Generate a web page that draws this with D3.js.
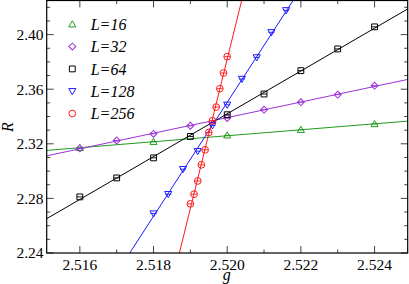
<!DOCTYPE html>
<html>
<head>
<meta charset="utf-8">
<script src="https://cdn.jsdelivr.net/npm/d3@7"></script>
<style>
  body { margin: 0; background: #fff; }
  svg { display: block; }
  text { font-family: "Liberation Serif", "Times New Roman", "DejaVu Serif", serif; }
</style>
</head>
<body>
<svg width="409" height="284"></svg>
<script>
// data
var labels = ["L=16", "L=32", "L=64", "L=128", "L=256"];
var colors = ["#1f9a1f", "#9b30d9", "#000000", "#1a1aff", "#ff1a1a"];
var shapes = ["up", "diamond", "square", "down", "circle"];

var g16 = [2.516, 2.518, 2.520, 2.522, 2.524];
var r16 = [2.3170, 2.3215, 2.3262, 2.3303, 2.3345];

var g32 = [2.516, 2.517, 2.518, 2.519, 2.520, 2.521, 2.522, 2.523, 2.524];
var r32 = [2.3167, 2.3224, 2.3273, 2.3332, 2.3389, 2.3450, 2.3505, 2.3560, 2.3626];

var g64 = [2.516, 2.517, 2.518, 2.519, 2.520, 2.521, 2.522, 2.523, 2.524];
var r64 = [2.2811, 2.2950, 2.3097, 2.3254, 2.3413, 2.3565, 2.3736, 2.3895, 2.4057];

var g128 = [2.5180, 2.5184, 2.5188, 2.5192, 2.5196, 2.5200, 2.5204, 2.5208, 2.5212, 2.5216];
var r128 = [2.2689, 2.2831, 2.3014, 2.3146, 2.3335, 2.3486, 2.3675, 2.3833, 2.4017, 2.4178];

var g256 = [2.5190, 2.5191, 2.5192, 2.5193, 2.5194, 2.5195, 2.5196, 2.5197, 2.5198, 2.5199, 2.5200];
var r256 = [2.2760, 2.2831, 2.2928, 2.3046, 2.3156, 2.3283, 2.3369, 2.3469, 2.3604, 2.3719, 2.3839];

var xMajor = [2.516, 2.518, 2.520, 2.522, 2.524];
var xMinor = [2.517, 2.519, 2.521, 2.523];
var yMajor = [2.24, 2.28, 2.32, 2.36, 2.40];
var yMinor = [2.25, 2.26, 2.27, 2.29, 2.30, 2.31, 2.33, 2.34, 2.35, 2.37, 2.38, 2.39, 2.41, 2.42];

var series = [[g16, r16], [g32, r32], [g64, r64], [g128, r128], [g256, r256]];

var svg = d3.select("svg");
var plotLeft = 46.7, plotRight = 407.7, plotTop = 0.5, plotBottom = 253;

var x = d3.scaleLinear().domain([2.5151, 2.5249]).range([plotLeft, plotRight]);
var y = d3.scaleLinear().domain([2.24, 2.425]).range([plotBottom, plotTop]);

svg.append("clipPath").attr("id", "plot")
    .append("rect")
    .attr("x", plotLeft).attr("y", plotTop)
    .attr("width", plotRight - plotLeft).attr("height", plotBottom - plotTop);

// least squares fit for each size
function fit(gs, rs) {
    var mx = d3.mean(gs), my = d3.mean(rs);
    var num = 0, den = 0;
    gs.forEach(function (v, i) { num += (v - mx) * (rs[i] - my); den += (v - mx) * (v - mx); });
    var b = num / den;
    return function (v) { return my + b * (v - mx); };
}

var line = d3.line()
    .x(function (d) { return x(d[0]); })
    .y(function (d) { return y(d[1]); });

var lines = svg.append("g").attr("clip-path", "url(#plot)");
series.forEach(function (s, i) {
    var f = fit(s[0], s[1]);
    var ends = x.domain().map(function (v) { return [v, f(v)]; });
    lines.append("path")
        .datum(ends)
        .attr("fill", "none")
        .attr("stroke", colors[i])
        .attr("stroke-width", 1)
        .attr("d", line);
});

function symbolPath(shape) {
    if (shape == "up") return d3.symbol(d3.symbolTriangle, 22)();
    if (shape == "down") return d3.symbol(d3.symbolTriangle, 22)();
    if (shape == "diamond") return d3.symbol(d3.symbolSquare, 24)();
    if (shape == "square") return d3.symbol(d3.symbolSquare, 34)();
    return d3.symbol(d3.symbolCircle, 36)();
}
function symbolRotate(shape) {
    if (shape == "down") return " rotate(180)";
    if (shape == "diamond") return " rotate(45)";
    return "";
}
function symbolShift(shape) {
    // d3 triangle is centred on its centroid; move to the box centre
    if (shape == "up") return 0.6;
    if (shape == "down") return -0.6;
    return 0;
}

var marks = svg.append("g").attr("clip-path", "url(#plot)");
series.forEach(function (s, i) {
    var pts = s[0].map(function (v, j) { return [v, s[1][j]]; });
    var grp = marks.append("g");
    // tiny error bars with caps
    grp.selectAll("line")
        .data(pts)
        .enter().append("line")
        .attr("x1", function (d) { return x(d[0]) - 3; })
        .attr("x2", function (d) { return x(d[0]) + 3; })
        .attr("y1", function (d) { return y(d[1]); })
        .attr("y2", function (d) { return y(d[1]); })
        .attr("stroke", colors[i])
        .attr("stroke-width", 0.9);
    grp.selectAll("path")
        .data(pts)
        .enter().append("path")
        .attr("d", symbolPath(shapes[i]))
        .attr("transform", function (d) {
            return "translate(" + x(d[0]) + "," + (y(d[1]) + symbolShift(shapes[i])) + ")" + symbolRotate(shapes[i]);
        })
        .attr("fill", "none")
        .attr("stroke", colors[i])
        .attr("stroke-width", 1);
});

// frame and ticks on all four sides, pointing inwards
var axes = svg.append("g").attr("stroke", "#444").attr("stroke-width", 1);
var xTicks = xMajor.map(function (v) { return [v, 7]; }).concat(xMinor.map(function (v) { return [v, 3.5]; }));
var yTicks = yMajor.map(function (v) { return [v, 7]; }).concat(yMinor.map(function (v) { return [v, 3.5]; }));
xTicks.forEach(function (d) {
    axes.append("line").attr("x1", x(d[0])).attr("x2", x(d[0])).attr("y1", plotBottom).attr("y2", plotBottom - d[1]);
    axes.append("line").attr("x1", x(d[0])).attr("x2", x(d[0])).attr("y1", plotTop).attr("y2", plotTop + d[1]);
});
yTicks.forEach(function (d) {
    axes.append("line").attr("y1", y(d[0])).attr("y2", y(d[0])).attr("x1", plotLeft).attr("x2", plotLeft + d[1]);
    axes.append("line").attr("y1", y(d[0])).attr("y2", y(d[0])).attr("x1", plotRight).attr("x2", plotRight - d[1]);
});
svg.append("rect")
    .attr("x", plotLeft).attr("y", plotTop)
    .attr("width", plotRight - plotLeft).attr("height", plotBottom - plotTop)
    .attr("fill", "none")
    .attr("stroke", "#000")
    .attr("stroke-width", 1.2);

// tick labels
svg.append("g").selectAll("text")
    .data(xMajor)
    .enter().append("text")
    .attr("x", function (d) { return x(d); })
    .attr("y", 269.5)
    .attr("text-anchor", "middle")
    .attr("font-size", 15.5)
    .text(function (d) { return d3.format(".3f")(d); });

svg.append("g").selectAll("text")
    .data(yMajor)
    .enter().append("text")
    .attr("x", 43.5)
    .attr("y", function (d) { return y(d) + 5.3; })
    .attr("text-anchor", "end")
    .attr("font-size", 15.5)
    .text(function (d) { return d3.format(".2f")(d); });

// axis titles
svg.append("text")
    .attr("x", 226.7)
    .attr("y", 279.5)
    .attr("text-anchor", "middle")
    .attr("font-size", 16)
    .attr("font-style", "italic")
    .text("g");

svg.append("text")
    .attr("transform", "translate(12.5,127) rotate(-90)")
    .attr("text-anchor", "middle")
    .attr("font-size", 16)
    .attr("font-style", "italic")
    .text("R");

// legend
var legend = svg.append("g");
labels.forEach(function (lab, i) {
    var cy = 24.3 + i * 22.3;
    legend.append("path")
        .attr("d", symbolPath(shapes[i]))
        .attr("transform", "translate(72.3," + (cy + symbolShift(shapes[i])) + ")" + symbolRotate(shapes[i]))
        .attr("fill", "none")
        .attr("stroke", colors[i])
        .attr("stroke-width", 1);
    legend.append("text")
        .attr("x", 90.7)
        .attr("y", cy + 5.6)
        .attr("font-size", 16)
        .attr("font-style", "italic")
        .text(lab);
});
</script>
</body>
</html>
